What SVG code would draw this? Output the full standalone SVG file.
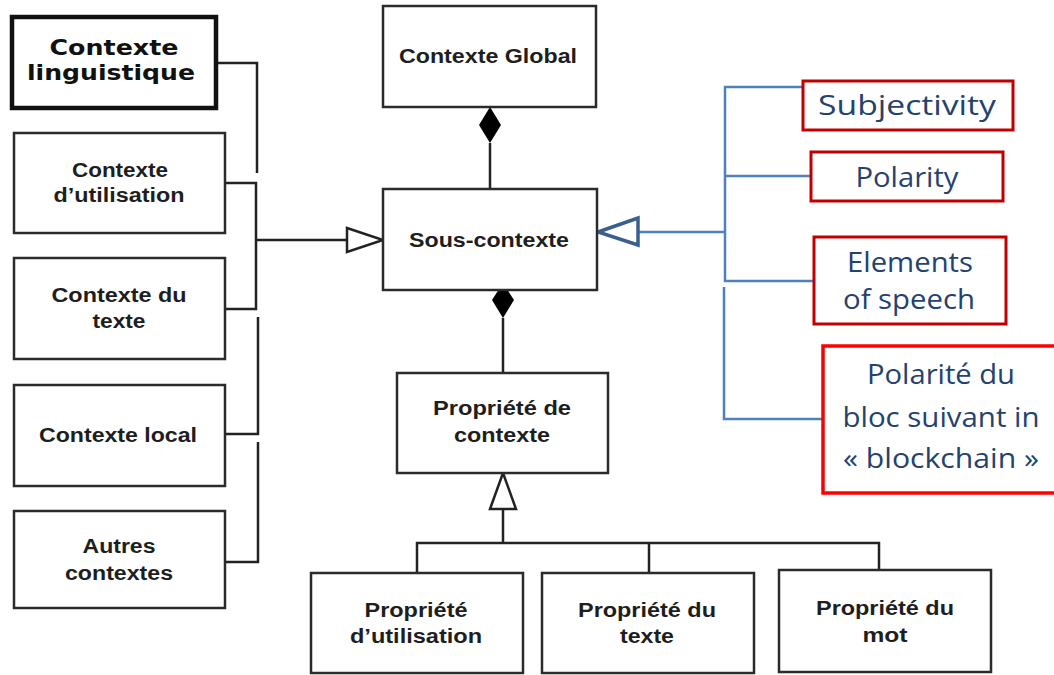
<svg xmlns="http://www.w3.org/2000/svg" width="1054" height="675" viewBox="0 0 1054 675">
<style>
.box{fill:#fff;stroke:#2b2b2b;stroke-width:2.5}
.thick{fill:#fff;stroke:#111;stroke-width:4.5}
.rbox{fill:#fff;stroke:#c00000;stroke-width:3}
.rbox2{fill:#fff;stroke:#ff0000;stroke-width:3.5}
.t{font-family:"Liberation Sans",Arial,sans-serif;font-weight:bold;font-size:20px;fill:#1e1e1e;text-anchor:middle}
.tv{font-family:"DejaVu Sans",Verdana,sans-serif;font-weight:bold;font-size:22px;fill:#111;text-anchor:middle}
.tb{font-family:"Open Sans","Noto Sans",sans-serif;font-size:27px;fill:#24426f;text-anchor:middle}
.ln{fill:none;stroke:#222;stroke-width:2.5}
.bl{fill:none;stroke:#4f81bd;stroke-width:2.5}
</style>
<rect width="1054" height="675" fill="#fff"/>
<g id="connectors">
  <path class="ln" d="M216 63 H257 V173"/>
  <path class="ln" d="M225 183 H256 V309 H225"/>
  <path class="ln" d="M256 240 H347"/>
  <polygon points="347,228 383,240 347,252" fill="#fff" stroke="#222" stroke-width="2.5"/>
  <path class="ln" d="M258 317 V434 H225"/>
  <path class="ln" d="M258 442 V562 H225"/>
  <path class="ln" d="M490 143 V189"/>
  <polygon points="490,107 501,125 490,143 479,125" fill="#000"/>
  <path class="ln" d="M503 318 V372"/>
  <polygon points="503,283 514,300 503,318 492,300" fill="#000"/>
  <polygon points="503,473 516,509 490,509" fill="#fff" stroke="#222" stroke-width="2.5"/>
  <path class="ln" d="M503 509 V543 M417 573 V543 H879 V572 M649 543 V573"/>
  <path class="bl" d="M812 87 H725 V281 H814 M725 176 H811 M725 232 H638"/>
  <polygon points="598,232 638,218 638,245" fill="#fff" stroke="#3a5f8f" stroke-width="3.5" stroke-linejoin="miter"/>
  <path class="bl" d="M724 287 V419 H823" stroke-width="3"/>
</g>
<g id="n-ling"><rect class="thick" x="12" y="17" width="204" height="91"/>
<text class="tv" x="114" y="55" textLength="129" lengthAdjust="spacingAndGlyphs">Contexte</text>
<text class="tv" x="111" y="80" textLength="168" lengthAdjust="spacingAndGlyphs">linguistique</text></g>
<g id="n-util"><rect class="box" x="14" y="133" width="211" height="100"/>
<text class="t" x="120" y="177" textLength="96" lengthAdjust="spacingAndGlyphs">Contexte</text>
<text class="t" x="119" y="202" textLength="131" lengthAdjust="spacingAndGlyphs">d’utilisation</text></g>
<g id="n-texte"><rect class="box" x="14" y="258" width="211" height="101"/>
<text class="t" x="119" y="302" textLength="135" lengthAdjust="spacingAndGlyphs">Contexte du</text>
<text class="t" x="119" y="328" textLength="53" lengthAdjust="spacingAndGlyphs">texte</text></g>
<g id="n-local"><rect class="box" x="14" y="385" width="211" height="101"/>
<text class="t" x="118" y="442" textLength="158" lengthAdjust="spacingAndGlyphs">Contexte local</text></g>
<g id="n-autres"><rect class="box" x="14" y="511" width="211" height="97"/>
<text class="t" x="119" y="553" textLength="73" lengthAdjust="spacingAndGlyphs">Autres</text>
<text class="t" x="119" y="580" textLength="108" lengthAdjust="spacingAndGlyphs">contextes</text></g>
<g id="n-global"><rect class="box" x="383" y="6" width="213" height="101"/>
<text class="t" x="488" y="63" font-size="21" textLength="178" lengthAdjust="spacingAndGlyphs">Contexte Global</text></g>
<g id="n-sous"><rect class="box" x="383" y="189" width="214" height="101"/>
<text class="t" x="489" y="247" font-size="21" textLength="160" lengthAdjust="spacingAndGlyphs">Sous-contexte</text></g>
<g id="n-prop"><rect class="box" x="397" y="373" width="211" height="100"/>
<text class="t" x="502" y="415" textLength="138" lengthAdjust="spacingAndGlyphs">Propriété de</text>
<text class="t" x="502" y="442" textLength="96" lengthAdjust="spacingAndGlyphs">contexte</text></g>
<g id="n-putil"><rect class="box" x="311" y="573" width="212" height="100"/>
<text class="t" x="416" y="617" textLength="103" lengthAdjust="spacingAndGlyphs">Propriété</text>
<text class="t" x="416" y="643" textLength="132" lengthAdjust="spacingAndGlyphs">d’utilisation</text></g>
<g id="n-ptexte"><rect class="box" x="542" y="573" width="212" height="100"/>
<text class="t" x="647" y="617" textLength="138" lengthAdjust="spacingAndGlyphs">Propriété du</text>
<text class="t" x="647" y="643" textLength="54" lengthAdjust="spacingAndGlyphs">texte</text></g>
<g id="n-pmot"><rect class="box" x="779" y="570" width="212" height="102"/>
<text class="t" x="885" y="615" textLength="138" lengthAdjust="spacingAndGlyphs">Propriété du</text>
<text class="t" x="885" y="642" textLength="45" lengthAdjust="spacingAndGlyphs">mot</text></g>
<g id="n-subj"><rect class="rbox" x="803" y="81" width="210" height="49"/>
<text class="tb" x="907" y="115" textLength="178" lengthAdjust="spacingAndGlyphs">Subjectivity</text></g>
<g id="n-pol"><rect class="rbox" x="811" y="152" width="192" height="49"/>
<text class="tb" x="907" y="187" textLength="103" lengthAdjust="spacingAndGlyphs">Polarity</text></g>
<g id="n-elem"><rect class="rbox" x="814" y="237" width="192" height="87"/>
<text class="tb" x="910" y="272" textLength="126" lengthAdjust="spacingAndGlyphs">Elements</text>
<text class="tb" x="909" y="309" textLength="132" lengthAdjust="spacingAndGlyphs">of speech</text></g>
<g id="n-bloc"><rect class="rbox2" x="823" y="346" width="240" height="147"/>
<text class="tb" x="941" y="384" textLength="148" lengthAdjust="spacingAndGlyphs">Polarité du</text>
<text class="tb" x="941" y="427" textLength="197" lengthAdjust="spacingAndGlyphs">bloc suivant in</text>
<text class="tb" x="941" y="468" textLength="196" lengthAdjust="spacingAndGlyphs">« blockchain »</text></g>
</svg>
